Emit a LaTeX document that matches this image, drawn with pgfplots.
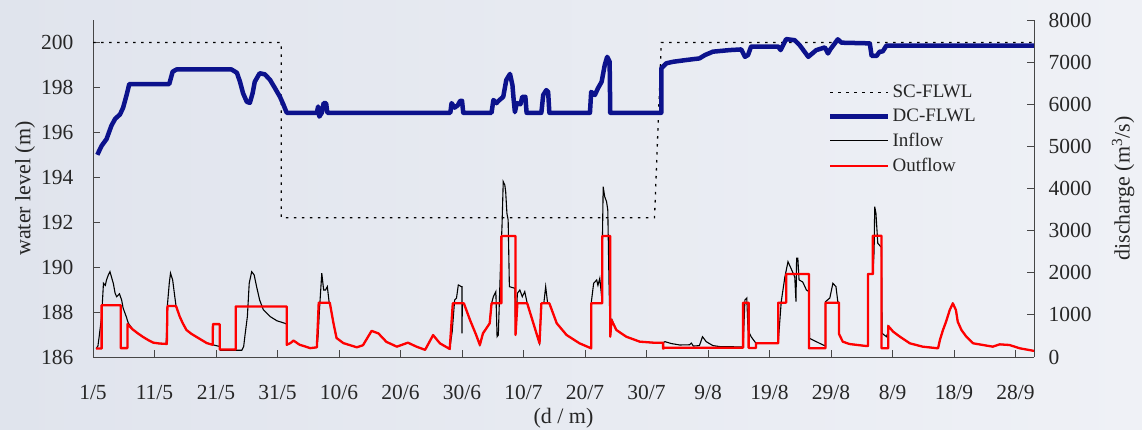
\documentclass[border=0pt]{standalone}
\usepackage{pgfplots}
\pgfplotsset{compat=1.18}
\usepackage{fontspec}
\setmainfont{Liberation Serif}
\definecolor{bgL}{RGB}{224,228,237}
\definecolor{bgR}{RGB}{239,241,246}
\definecolor{dcblue}{RGB}{12,18,140}
\definecolor{axgray}{RGB}{70,70,70}
\pgfplotsset{
  common/.style={
    scale only axis, width=941pt, height=337pt,
    at={(93pt,73pt)}, anchor=south west,
    xmin=0, xmax=153,
    axis line style={-, axgray, line width=0.9pt},
    tick style={axgray, line width=0.8pt},
    major tick length=7pt,
    tick align=inside,
    tick label style={font=\fontsize{21.5}{24}\selectfont, text=black!85},
    label style={font=\fontsize{22}{26}\selectfont, text=black!85},
    /pgf/number format/assume math mode=true,
    /pgf/number format/1000 sep={},
  }
}
\begin{document}
\begin{tikzpicture}[x=1pt,y=1pt]
\shade[left color=bgL, right color=bgR] (0,0) rectangle (1142,430);
\begin{axis}[common,
  ymin=186, ymax=201,
  axis x line*=bottom, axis y line*=left,
  xtick={0,10,...,150},
  xticklabels={1/5,11/5,21/5,31/5,10/6,20/6,30/6,10/7,20/7,30/7,9/8,19/8,29/8,8/9,18/9,28/9},
  xticklabel style={yshift=-27pt, inner sep=1pt},
  ytick={186,188,...,200},
  yticklabel style={xshift=-16pt},
  xlabel={(d / m)},
  xlabel style={at={(axis description cs:0.5,-0.181)}, anchor=center, inner sep=0pt},
  ylabel={water level (m)},
  ylabel style={at={(axis description cs:-0.0723,0.5)}, anchor=center},
]
% SC-FLWL
\addplot[black, line width=1.3pt, dash pattern=on 2.5pt off 5.5pt] coordinates {
(0,200) (30.6,200) (30.6,192.2) (91.3,192.2) (92.4,200) (153,200)};
% DC-FLWL
\addplot[dcblue, line width=4.5pt, line join=round] coordinates {
(0.7,195.0) (1.4,195.4) (2.2,195.7) (3.0,196.3) (3.6,196.6) (4.4,196.8) (4.9,197.1) (5.5,197.7) (5.9,198.15)
(12.4,198.15) (12.95,198.7) (13.6,198.8) (22.5,198.8) (23.4,198.65) (23.9,198.25) (24.4,197.74) (25.0,197.36)
(25.5,197.31) (25.95,197.74) (26.3,198.25) (27.1,198.63) (27.95,198.58) (28.8,198.33) (29.6,197.96) (30.4,197.58)
(31.0,197.21) (31.5,196.87) (36.4,196.87) (36.6,197.15) (36.8,196.7) (37.2,196.87) (37.5,197.3) (37.9,197.3)
(38.1,196.87) (58.1,196.87) (58.3,197.3) (58.8,197.1) (59.3,197.2) (59.7,197.4) (60.0,197.4) (60.2,196.87)
(64.8,196.87) (65.1,197.44) (65.6,197.3) (66.1,197.44) (66.7,197.58) (67.2,198.33) (67.8,198.6) (68.2,198.1)
(68.4,197.44) (68.6,196.9) (68.9,197.3) (69.5,197.25) (69.8,197.58) (70.3,197.58) (70.5,196.87) (72.9,196.87)
(73.2,197.66) (73.7,197.88) (74.0,197.8) (74.2,196.87) (80.8,196.87) (81.0,197.8) (81.6,197.66) (82.1,197.96)
(82.7,198.25) (83.2,198.99) (83.6,199.36) (84.0,199.14) (84.1,196.87) (92.4,196.87) (92.4,198.85) (93.2,199.07)
(94.3,199.14) (96.5,199.22) (98.6,199.29) (99.5,199.44) (100.8,199.59) (103.5,199.66) (105.4,199.69) (106.0,199.36)
(106.5,199.44) (107.0,199.82) (111.4,199.82) (111.8,199.66) (112.7,200.15) (114.1,200.1) (114.9,199.88) (116.3,199.36)
(117.6,199.66) (119.0,199.78) (119.5,199.51) (119.9,199.7) (121.1,200.14) (121.7,199.99) (126.3,199.96) (126.6,199.40)
(127.4,199.4) (127.9,199.59) (128.4,199.6) (129.0,199.86) (153,199.86)};
\end{axis}
\begin{axis}[common,
  ymin=0, ymax=8000,
  axis x line=none, axis y line*=right,
  ytick={0,1000,...,8000},
  yticklabel style={xshift=11pt},
  ylabel={discharge (m\textsuperscript{3}/s)},
  ylabel style={at={(axis description cs:1.0946,0.5)}, anchor=center, rotate=0},
  legend style={at={(axis description cs:0.781,0.813)}, anchor=north west, draw=none, fill=none,
    font=\fontsize{19}{21}\selectfont, text=black!85, row sep=6pt, inner sep=0pt,
    nodes={inner sep=2pt}},
  legend cell align=left,
  legend image code/.code={\draw[#1] (0pt,0pt) -- (58pt,0pt);},
]
\addlegendimage{black, line width=1.3pt, dash pattern=on 2.5pt off 5.5pt}
\addlegendentry{SC-FLWL}
\addlegendimage{dcblue, line width=4.5pt}
\addlegendentry{DC-FLWL}
% Inflow
\addplot[black, line width=1.1pt] coordinates {
(0.5,200) (0.8,260) (1.0,480) (1.4,960) (1.7,1750) (2.0,1700) (2.2,1830) (2.5,1950) (2.76,2025) (3.0,1900)
(3.3,1750) (3.6,1510) (3.85,1430) (4.3,1500) (4.66,1350) (4.9,1160) (5.4,960) (5.75,800) (6.5,650) (7.3,560)
(8.2,470) (9.0,400) (9.8,340) (10.8,320) (11.9,310) (12.1,1230) (12.4,1750) (12.6,1990) (12.95,1830) (13.3,1430)
(13.5,1210) (14.1,960) (14.6,800) (15.2,640) (16.0,550) (16.9,470) (17.7,400) (18.5,330) (19.45,290) (20.6,250)
(20.7,160) (24.2,160) (24.5,250) (24.7,500) (25.1,960) (25.4,1750) (25.8,2025) (26.2,1950) (26.6,1670) (27.1,1350)
(27.7,1120) (28.8,960) (29.9,860) (31.2,800) (31.5,780) (31.5,290) (32.1,330) (32.6,390) (33.6,290) (34.5,250)
(35.3,210) (36.4,230) (36.6,500) (36.8,1075) (37.2,1990) (37.5,1590) (37.8,1590) (38.1,1670) (38.4,1290) (38.5,1290)
(39.1,800) (39.6,450) (40.7,330) (42.9,230) (43.9,280) (45.3,620) (46.4,560) (47.7,360) (49.4,245) (51.2,340)
(52.6,245) (54.0,170) (55.3,520) (56.4,325) (58.0,190) (58.4,600) (58.8,1353) (59.1,1400) (59.4,1710) (59.9,1670)
(60.0,1670) (60.0,562) (60.05,1274) (60.3,1274) (61.3,878) (62.3,522) (62.9,285) (63.4,560) (64.5,800) (64.8,1274)
(65.1,1432) (65.5,1550) (65.7,482) (65.9,520) (66.3,2381) (66.5,3100) (66.7,4162) (66.96,4083) (67.1,3920) (67.3,3411)
(67.5,3252) (67.7,1670) (68.6,1630) (68.7,522) (69.0,1512) (69.4,1590) (69.8,1432) (70.2,1550) (70.6,1274) (71.6,800)
(72.6,325) (72.9,1274) (73.3,1274) (73.6,1670) (73.9,1300) (74.2,1274) (75.4,800) (77.0,522) (79.1,325) (81.0,206)
(81.0,1274) (81.4,1750) (81.9,1828) (82.1,1700) (82.4,1868) (82.7,1432) (82.95,4043) (83.2,3805) (83.5,3687) (83.7,3490)
(83.9,1750) (84.1,482) (84.4,878) (85.1,640) (86.7,482) (88.9,364) (91.1,340) (92.7,340) (93.0,364) (94.0,320)
(95.4,285) (97.0,290) (97.3,330) (97.6,260) (98.6,270) (99.1,482) (99.7,364) (100.8,270) (102.0,245) (105.7,240)
(106.0,1353) (106.3,1400) (106.5,641) (107.0,482) (107.6,364) (107.8,325) (111.4,325) (111.9,1313) (112.5,1906) (113.0,2262)
(113.5,2100) (114.1,1900) (114.3,1313) (114.4,2343) (114.6,2343) (114.8,1830) (115.4,1780) (116.0,1590) (116.4,1550) (116.5,443)
(117.6,364) (118.7,285) (119.1,261) (119.1,1313) (119.8,1400) (120.3,1750) (120.8,1670) (121.1,1313) (121.3,1290) (121.3,546)
(121.9,364) (123.0,308) (125.7,261) (126.0,261) (126.0,1970) (126.8,1970) (127.0,2500) (127.1,3568) (127.3,3410) (127.6,2700)
(128.2,2600) (128.3,562) (129.0,482) (129.3,600) (129.3,736) (130.1,601) (131.2,482) (132.8,325) (134.9,245) (137.4,206)
(137.7,404) (138.2,641) (138.7,838) (139.3,1116) (139.8,1274) (140.3,1116) (140.6,838) (141.2,641) (142.0,482) (143.1,325)
(144.7,285) (146.3,245) (147.4,300) (149.0,285) (150.7,206) (152.8,150) (153,150)};
\addlegendentry{Inflow}
% Outflow
\addplot[red, line width=2.3pt, line join=round] coordinates {
(0.5,200) (1.4,200) (1.4,1230) (4.5,1230) (4.5,210) (5.6,210) (5.6,780) (6.5,650) (7.3,560) (8.2,470)
(9.0,400) (9.8,340) (10.8,320) (12.0,310) (12.1,1210) (13.5,1210) (14.1,960) (14.6,800) (15.2,640) (16.0,550)
(16.9,470) (17.7,400) (18.5,330) (19.45,290) (19.5,780) (20.6,780) (20.6,180) (23.2,180) (23.2,1200) (31.5,1200)
(31.5,290) (32.1,330) (32.6,390) (33.6,290) (34.5,250) (35.3,210) (36.4,230) (36.7,1290) (38.5,1290) (39.1,800)
(39.6,450) (40.7,330) (42.9,230) (43.9,280) (45.3,620) (46.4,560) (47.7,360) (49.4,245) (51.2,340) (52.6,245)
(54.0,170) (55.3,520) (56.4,325) (58.0,190) (58.5,1274) (60.3,1274) (61.3,878) (62.3,522) (62.9,285) (63.4,560)
(64.5,800) (64.8,1274) (66.4,1274) (66.4,2872) (68.7,2872) (68.7,522) (69.0,1274) (70.6,1274) (71.6,800) (72.6,325)
(72.9,1274) (74.2,1274) (75.4,800) (77.0,522) (79.1,325) (81.0,206) (81.0,1274) (82.8,1274) (82.8,2872) (84.1,2872)
(84.1,482) (84.3,878) (85.1,640) (86.7,482) (88.9,364) (91.1,340) (92.7,340) (92.7,200) (93.0,220) (105.7,220)
(105.7,1290) (106.6,1290) (106.6,215) (107.8,215) (107.8,325) (111.4,325) (111.4,1290) (112.7,1290) (112.7,1970) (116.4,1970)
(116.4,206) (119.1,206) (119.1,1290) (121.3,1290) (121.3,546) (121.9,364) (123.0,308) (125.7,261) (126.0,261) (126.0,1970)
(126.8,1970) (126.8,2880) (128.2,2880) (128.2,206) (129.3,206) (129.3,736) (130.1,601) (131.2,482) (132.8,325) (134.9,245)
(137.4,206) (137.7,404) (138.2,641) (138.7,838) (139.3,1116) (139.8,1274) (140.3,1116) (140.6,838) (141.2,641) (142.0,482)
(143.1,325) (144.7,285) (146.3,245) (147.4,300) (149.0,285) (150.7,206) (152.8,150) (153,150)};
\addlegendentry{Outflow}
\end{axis}
\end{tikzpicture}
\end{document}
